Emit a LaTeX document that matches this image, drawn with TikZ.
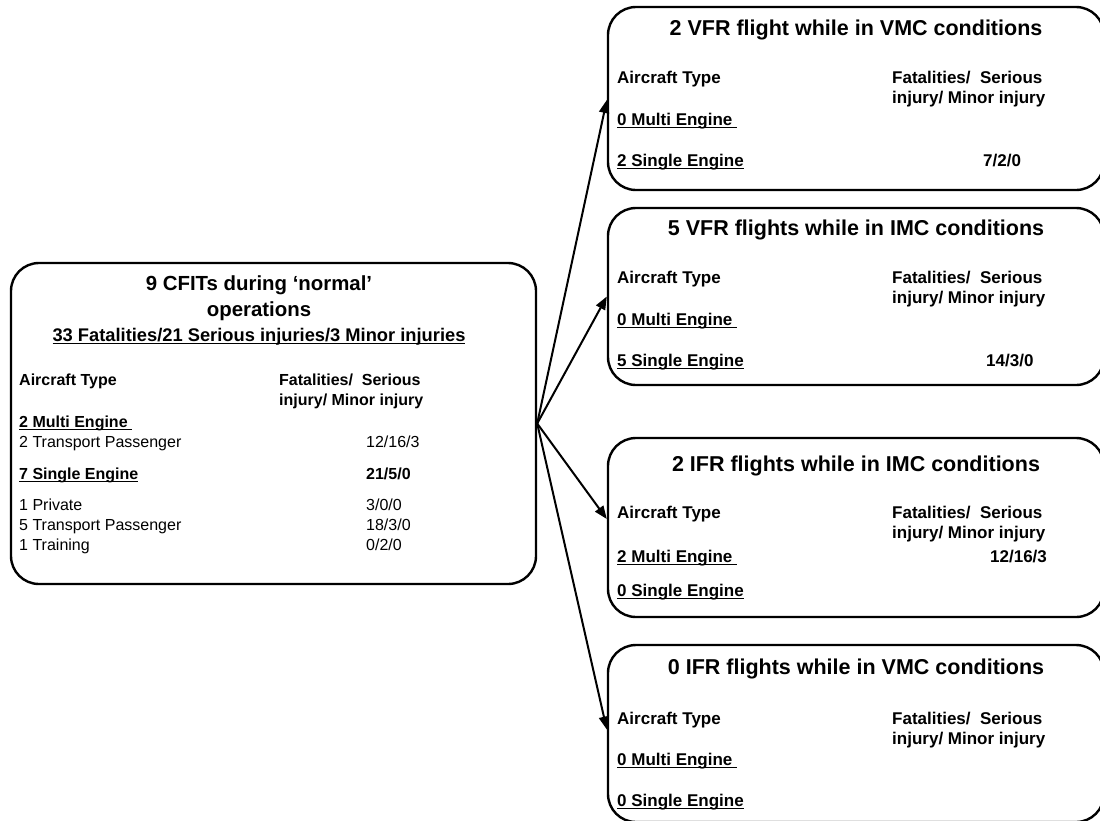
\documentclass[tikz,border=0pt]{standalone}
\usepackage{fontspec}
\setmainfont{Liberation Sans}
\usetikzlibrary{arrows.meta}
% Subrayado a la altura de Word
\newcommand{\subrayado}[1]{\setbox0\hbox{#1}\rlap{\rule[-3.3pt]{\wd0}{1.25pt}}\box0}

\begin{document}
\begin{tikzpicture}[x=1pt, y=-1pt]
    % Estilo para los recuadros
    \tikzstyle{box_style} = [draw=black, line width=2.4pt, rounded corners=28pt, inner sep=0pt, minimum width=496pt]

    % Estilo para las flechas
    \tikzstyle{arrow_style} = [-{Triangle[length=13pt, width=10pt]}, line width=2pt]

    % Estilos para los textos del recuadro principal
    \tikzstyle{main_title} = [inner sep=0pt, anchor=base, font=\fontsize{20.4}{24}\selectfont\bfseries]
    \tikzstyle{main_sub} = [inner sep=0pt, anchor=base, font=\fontsize{18.3}{22}\selectfont\bfseries]
    \tikzstyle{main_text} = [inner sep=0pt, anchor=base west, font=\fontsize{16}{19}\selectfont]
    \tikzstyle{main_bold} = [inner sep=0pt, anchor=base west, font=\fontsize{16}{19}\selectfont\bfseries]

    % Estilos para los textos de los recuadros de la derecha
    \tikzstyle{title_style} = [inner sep=0pt, anchor=base, font=\fontsize{21.5}{24}\selectfont\bfseries]
    \tikzstyle{bold_style} = [inner sep=0pt, anchor=base west, font=\fontsize{17}{20}\selectfont\bfseries]

    \clip (0,0) rectangle (1100,820);

    % Recuadro principal
    \node[box_style, minimum width=525pt, minimum height=321pt] (cfit) at (273.5, 423.5) {};
    \node[main_title] (cfit_t1) at (259, 290) {9 CFITs during ‘normal’};
    \node[main_title] (cfit_t2) at (259, 316) {operations};
    \node[main_sub] (cfit_t3) at (259, 341) {\subrayado{33 Fatalities/21 Serious injuries/3 Minor injuries}};
    \node[main_bold] (cfit_a) at (19, 385) {Aircraft Type};
    \node[main_bold] (cfit_h1) at (279, 385) {Fatalities/\ \ Serious};
    \node[main_bold] (cfit_h2) at (279, 405) {injury/ Minor injury};
    \node[main_bold] (cfit_m) at (19, 427) {\subrayado{2 Multi Engine\ }};
    \node[main_text] (cfit_m1) at (19, 447) {2 Transport Passenger};
    \node[main_text] (cfit_m1v) at (366, 447) {12/16/3};
    \node[main_bold] (cfit_s) at (19, 479) {\subrayado{7 Single Engine}};
    \node[main_bold] (cfit_sv) at (366, 479) {21/5/0};
    \node[main_text] (cfit_s1) at (19, 510) {1 Private};
    \node[main_text] (cfit_s1v) at (366, 510) {3/0/0};
    \node[main_text] (cfit_s2) at (19, 530) {5 Transport Passenger};
    \node[main_text] (cfit_s2v) at (366, 530) {18/3/0};
    \node[main_text] (cfit_s3) at (19, 550) {1 Training};
    \node[main_text] (cfit_s3v) at (366, 550) {0/2/0};

    % Recuadro VFR en VMC
    \node[box_style, minimum height=183pt] (vfr_vmc) at (856, 98.5) {};
    \node[title_style] (vfr_vmc_t) at (856, 35) {2 VFR flight while in VMC conditions};
    \node[bold_style] (vfr_vmc_a) at (617, 83) {Aircraft Type};
    \node[bold_style] (vfr_vmc_h1) at (892, 83) {Fatalities/\ \ Serious};
    \node[bold_style] (vfr_vmc_h2) at (892, 103) {injury/ Minor injury};
    \node[bold_style] (vfr_vmc_m) at (617, 125) {\subrayado{0 Multi Engine\ }};
    \node[bold_style] (vfr_vmc_s) at (617, 166) {\subrayado{2 Single Engine}};
    \node[bold_style] (vfr_vmc_sv) at (983, 166) {7/2/0};

    % Recuadro VFR en IMC
    \node[box_style, minimum height=177pt] (vfr_imc) at (856, 296.5) {};
    \node[title_style] (vfr_imc_t) at (856, 235) {5 VFR flights while in IMC conditions};
    \node[bold_style] (vfr_imc_a) at (617, 283) {Aircraft Type};
    \node[bold_style] (vfr_imc_h1) at (892, 283) {Fatalities/\ \ Serious};
    \node[bold_style] (vfr_imc_h2) at (892, 303) {injury/ Minor injury};
    \node[bold_style] (vfr_imc_m) at (617, 325) {\subrayado{0 Multi Engine\ }};
    \node[bold_style] (vfr_imc_s) at (617, 366) {\subrayado{5 Single Engine}};
    \node[bold_style] (vfr_imc_sv) at (986, 366) {14/3/0};

    % Recuadro IFR en IMC
    \node[box_style, minimum height=179pt] (ifr_imc) at (856, 527.5) {};
    \node[title_style] (ifr_imc_t) at (856, 471) {2 IFR flights while in IMC conditions};
    \node[bold_style] (ifr_imc_a) at (617, 518) {Aircraft Type};
    \node[bold_style] (ifr_imc_h1) at (892, 518) {Fatalities/\ \ Serious};
    \node[bold_style] (ifr_imc_h2) at (892, 538) {injury/ Minor injury};
    \node[bold_style] (ifr_imc_m) at (617, 562) {\subrayado{2 Multi Engine\ }};
    \node[bold_style] (ifr_imc_mv) at (990, 562) {12/16/3};
    \node[bold_style] (ifr_imc_s) at (617, 596) {\subrayado{0 Single Engine}};

    % Recuadro IFR en VMC
    \node[box_style, minimum height=177pt] (ifr_vmc) at (856, 733.5) {};
    \node[title_style] (ifr_vmc_t) at (856, 674) {0 IFR flights while in VMC conditions};
    \node[bold_style] (ifr_vmc_a) at (617, 724) {Aircraft Type};
    \node[bold_style] (ifr_vmc_h1) at (892, 724) {Fatalities/\ \ Serious};
    \node[bold_style] (ifr_vmc_h2) at (892, 744) {injury/ Minor injury};
    \node[bold_style] (ifr_vmc_m) at (617, 765) {\subrayado{0 Multi Engine\ }};
    \node[bold_style] (ifr_vmc_s) at (617, 806) {\subrayado{0 Single Engine}};

    % Flechas desde el recuadro principal
    \draw[arrow_style] (cfit.east) -- ([yshift=-1.5pt]vfr_vmc.west);
    \draw[arrow_style] (cfit.east) -- (vfr_imc.west);
    \draw[arrow_style] (cfit.east) -- ([yshift=8.5pt]ifr_imc.west);
    \draw[arrow_style] (cfit.east) -- ([yshift=4pt]ifr_vmc.west);

\end{tikzpicture}
\end{document}
